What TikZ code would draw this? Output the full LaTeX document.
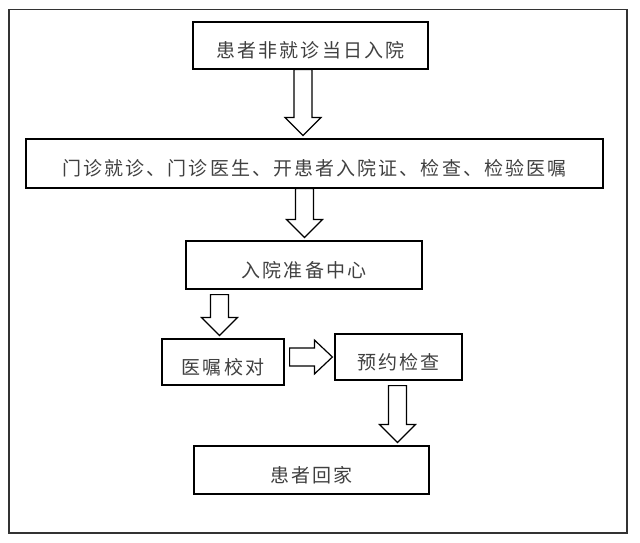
\documentclass[tikz,border=0pt]{standalone}
\usepackage{fontspec}
\setmainfont{Noto Sans CJK SC}[LetterSpace=11]
\usetikzlibrary{calc}

\tikzset{
  box/.style={draw, line width=1.2pt, inner sep=0pt, text=black!75,
    text height=24pt, text depth=0pt, font=\fontsize{19}{19}\selectfont},
  blockarrow/.style={draw, line width=1.2pt, line join=miter},
}

\newcommand\arrdown[3][0pt]{%
  \draw[blockarrow] let \p1=(#2), \p2=(#3) in
    (\x1-9pt,\y1-#1) -- (\x1-9pt,\y2+21pt) -- (\x1-18pt,\y2+21pt) -- (\x1,\y2+3pt)
    -- (\x1+18pt,\y2+21pt) -- (\x1+9pt,\y2+21pt) -- (\x1+9pt,\y1-#1) -- cycle;}
\newcommand\arrright[3][0pt]{%
  \draw[blockarrow] let \p1=(#2), \p2=(#3) in
    (\x1+#1,\y1+9pt) -- (\x2-20pt,\y1+9pt) -- (\x2-20pt,\y1+17pt) -- (\x2-2pt,\y1)
    -- (\x2-20pt,\y1-17pt) -- (\x2-20pt,\y1-9pt) -- (\x1+#1,\y1-9pt) -- cycle;}

\begin{document}
\begin{tikzpicture}[x=1pt,y=-1pt]
\useasboundingbox (0,0) rectangle (640,542);
\draw[line width=1.5pt, black!80] (9,9.5) rectangle (627,533);

\node[box, minimum width=235, minimum height=47] (admit) at (310.5,45.5) {患者非就诊当日入院};
\node[box, minimum width=577, minimum height=49] (clinic) at (314.5,163.5) {门诊就诊、门诊医生、开患者入院证、检查、检验医嘱};
\node[box, minimum width=236, minimum height=48] (center) at (304,265) {入院准备中心};
\node[box, minimum width=122, minimum height=46] (check) at (223,362) {医嘱校对};
\node[box, minimum width=127, minimum height=46] (book) at (398.5,357) {预约检查};
\node[box, minimum width=235, minimum height=48] (home) at (311.5,470) {患者回家};

\arrdown{admit.south -| 303,0}{clinic.north -| 303,0}
\arrdown{clinic.south -| 304.5,0}{center.north -| 304.5,0}
\arrdown[5pt]{center.south -| 219.5,0}{check.north -| 219.5,0}
\arrright[5pt]{check.east |- 0,357}{book.west |- 0,357}
\arrdown[5pt]{book.south -| 397.5,0}{home.north -| 397.5,0}

\end{tikzpicture}
\end{document}
